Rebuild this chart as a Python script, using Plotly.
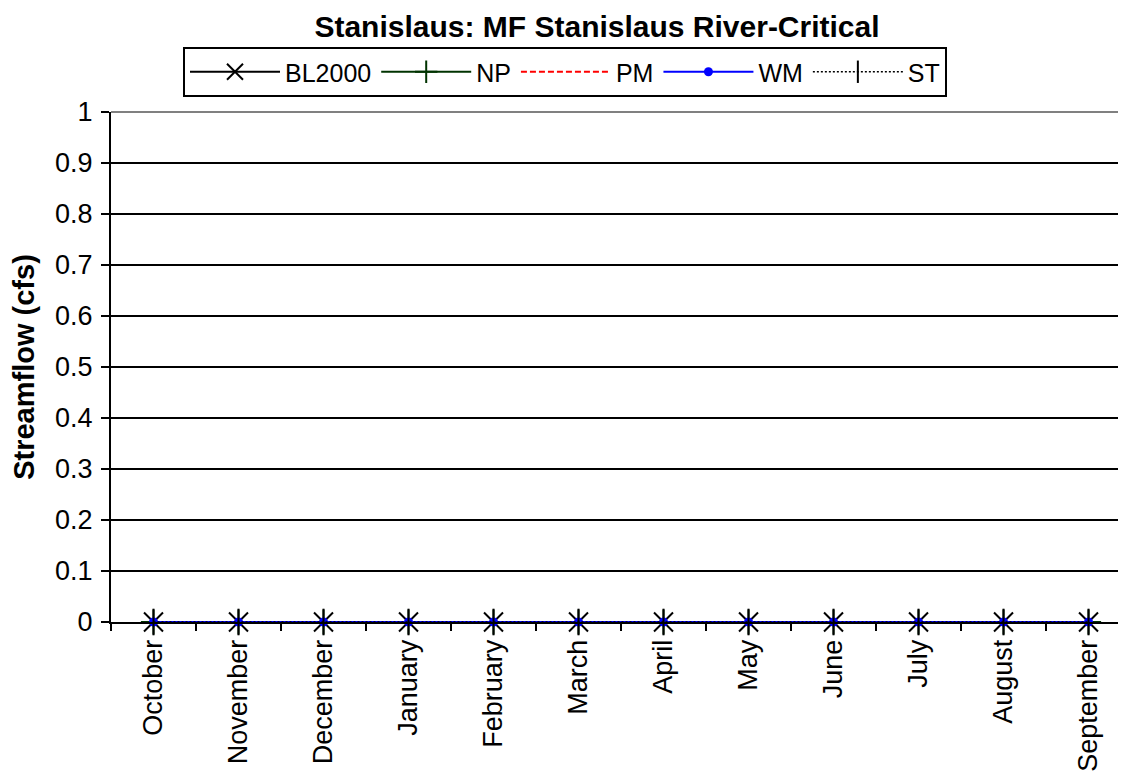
import plotly.graph_objects as go

months = ["October", "November", "December", "January", "February", "March",
          "April", "May", "June", "July", "August", "September"]
bl2000 = [0, 0, 0, 0, 0, 0, 0, 0, 0, 0, 0, 0]
np_vals = [0, 0, 0, 0, 0, 0, 0, 0, 0, 0, 0, 0]
pm_vals = [0, 0, 0, 0, 0, 0, 0, 0, 0, 0, 0, 0]
wm_vals = [0, 0, 0, 0, 0, 0, 0, 0, 0, 0, 0, 0]
st_vals = [0, 0, 0, 0, 0, 0, 0, 0, 0, 0, 0, 0]
y_ticks = [0, 0.1, 0.2, 0.3, 0.4, 0.5, 0.6, 0.7, 0.8, 0.9, 1]

FONT = "Liberation Sans, Arial, sans-serif"

fig = go.Figure()
fig.add_trace(go.Scatter(x=months, y=bl2000, name="BL2000", mode="lines+markers",
                         line=dict(color="black", width=2),
                         marker=dict(symbol="x-thin", size=19, line=dict(color="black", width=2)),
                         cliponaxis=False))
fig.add_trace(go.Scatter(x=months, y=np_vals, name="NP", mode="lines+markers",
                         line=dict(color="#003300", width=2),
                         marker=dict(symbol="cross-thin", size=18, line=dict(color="#003300", width=2)),
                         cliponaxis=False))
fig.add_trace(go.Scatter(x=months, y=pm_vals, name="PM", mode="lines",
                         line=dict(color="red", width=2, dash="6px,3px"),
                         cliponaxis=False))
fig.add_trace(go.Scatter(x=months, y=wm_vals, name="WM", mode="lines+markers",
                         line=dict(color="blue", width=2),
                         marker=dict(symbol="circle", size=9, color="blue"),
                         cliponaxis=False))
fig.add_trace(go.Scatter(x=months, y=st_vals, name="ST", mode="lines+markers",
                         line=dict(color="black", width=1.5, dash="2px,2px"),
                         marker=dict(symbol="line-ns", size=19, line=dict(color="black", width=2)),
                         cliponaxis=False))

PL, PT, PB = 103, 104, 614  # plot area in figure coordinates
fig.update_layout(
    width=1126, height=778,
    margin=dict(l=PL, r=0, t=PT, b=778 - PB),
    paper_bgcolor="white", plot_bgcolor="white",
    font=dict(family=FONT, size=27, color="black"),
    title=dict(text="<b>Stanislaus: MF Stanislaus River-Critical</b>",
               x=589 / 1126, xanchor="center", y=1 - 18 / 778, yanchor="middle",
               font=dict(family=FONT, size=30, color="black")),
    showlegend=True,
    legend=dict(orientation="h", x=(557 - PL) / (1126 - PL), xanchor="center",
                y=(PB - 39) / (PB - PT), yanchor="top",
                bordercolor="black", borderwidth=2, bgcolor="white",
                font=dict(family=FONT, size=25, color="black"),
                itemwidth=90, tracegroupgap=0),
    xaxis=dict(type="category", categoryorder="array", categoryarray=months,
               range=[-0.5, 11.535], tickson="boundaries", ticks="outside", ticklen=7,
               tickcolor="black", tickwidth=2, tickangle=-90, ticklabelstandoff=5,
               showline=True, linecolor="black", linewidth=2, showgrid=False,
               tickfont=dict(family=FONT, size=27, color="black")),
    yaxis=dict(range=[0, 1], tickvals=y_ticks, ticktext=[f"{v:g}" for v in y_ticks],
               ticks="outside", ticklen=8, tickcolor="black", tickwidth=2,
               ticklabelstandoff=3,
               showline=True, linecolor="black", linewidth=2,
               showgrid=True, gridcolor="black", gridwidth=1.5, zeroline=False,
               title=dict(text="<b>Streamflow (cfs)</b>", standoff=14,
                          font=dict(family=FONT, size=29, color="black")),
               tickfont=dict(family=FONT, size=27, color="black")),
)
fig.add_shape(type="line", xref="paper", yref="paper", x0=0, x1=1, y0=1, y1=1,
              line=dict(color="gray", width=2))

fig.write_html("out.html")
